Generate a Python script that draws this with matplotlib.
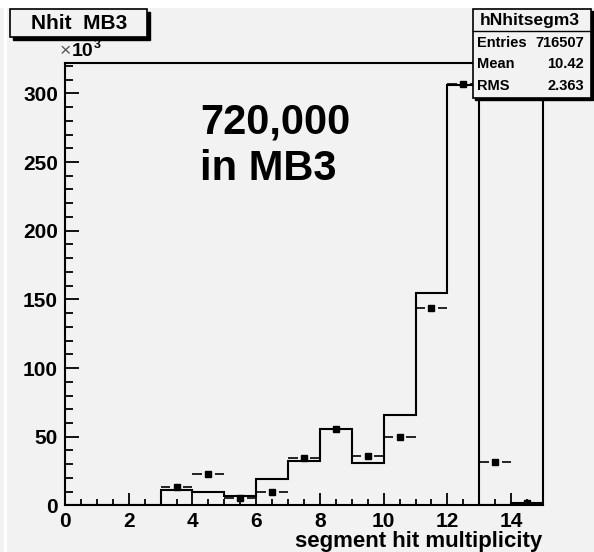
import matplotlib
matplotlib.use("Agg")
import matplotlib.pyplot as plt
from matplotlib.patches import Rectangle
from matplotlib.lines import Line2D
import numpy as np

plt.rcParams['font.family'] = ['Liberation Sans', 'DejaVu Sans']

# ---- data (thousands of entries) ----
bin_edges = list(range(0, 16))
hist_values = [0, 0, 0, 11.2, 10.0, 7.1, 19.2, 32.3, 55.6, 30.9, 65.8, 154.4, 306.0, 0.5, 1.7]
point_centers = [3.5, 4.5, 5.5, 6.5, 7.5, 8.5, 9.5, 10.5, 11.5, 12.5, 13.5, 14.5]
point_values = [13.6, 22.9, 5.4, 10.0, 34.5, 55.6, 36.0, 50.0, 144.0, 307.0, 31.8, 1.8]
x_ticks = [0, 2, 4, 6, 8, 10, 12, 14]
y_ticks = [0, 50, 100, 150, 200, 250, 300]
title_text = "Nhit  MB3"
stats_name = "hNhitsegm3"
stats_rows = [("Entries", "716507"), ("Mean", "10.42"), ("RMS", "2.363")]
note_text = "720,000\nin MB3"
xlabel_text = "segment hit multiplicity"

W, H = 594, 552
BG = '#f2f2f2'

def fx(px):
    return px / W

def fy(py):
    return 1 - py / H

fig = plt.figure(figsize=(W / 100, H / 100), dpi=100, facecolor=BG)

# white border strips
fig.patches.append(Rectangle((0, fy(8)), 1, 1 - fy(8), transform=fig.transFigure,
                             facecolor='white', edgecolor='none', zorder=0))
fig.patches.append(Rectangle((fx(4), 0), fx(2.5), 1, transform=fig.transFigure,
                             facecolor='white', edgecolor='none', zorder=0))

ax_l, ax_r, ax_t, ax_b = 65, 543, 62.7, 505.4
ax = fig.add_axes([fx(ax_l), fy(ax_b), fx(ax_r) - fx(ax_l), fy(ax_t) - fy(ax_b)])
ax.set_facecolor(BG)
ax.set_xlim(0, 15)
ax.set_ylim(0, 322.3)

# histogram step
ax.stairs(hist_values, bin_edges, color='black', linewidth=1.5, zorder=3)

# data points with horizontal bin-width bars (gap around marker)
gap = 0.2
pc = np.array(point_centers)
pv = np.array(point_values)
ax.hlines(pv, pc - 0.5, pc - gap, color='black', linewidth=1.2, zorder=4)
ax.hlines(pv, pc + gap, pc + 0.5, color='black', linewidth=1.2, zorder=4)
ax.plot(pc, pv, linestyle='none', marker='s', markersize=3.8, color='black', zorder=5)

# axes styling
for s in ax.spines.values():
    s.set_linewidth(1.5)
    s.set_color('black')
ax.set_xticks(x_ticks)
ax.set_xticks(np.arange(0, 15.01, 0.5), minor=True)
ax.set_yticks(y_ticks)
ax.set_yticks(np.arange(0, 322, 10), minor=True)
ax.set_xticklabels([str(v) for v in x_ticks], fontsize=15, fontweight='bold')
ax.set_yticklabels([str(v) for v in y_ticks], fontsize=15, fontweight='bold')
ax.tick_params(axis='x', which='major', direction='in', length=8.6, width=1.3, pad=5)
ax.tick_params(axis='x', which='minor', direction='in', length=4.5, width=1.3)
ax.tick_params(axis='y', which='major', direction='in', length=10, width=1.3, pad=5)
ax.tick_params(axis='y', which='minor', direction='in', length=6, width=1.3)

# x label, right aligned at axis end
fig.text(fx(542), fy(541.5), xlabel_text, ha='right', va='center', fontsize=16,
         fontweight='bold')

# x10^3 multiplier
fig.text(fx(60), fy(52), "\u00d7", ha='left', va='center', fontsize=14, color='#555555')
fig.text(fx(72), fy(52), "10", ha='left', va='center', fontsize=14, fontweight='bold')
fig.text(fx(94), fy(45), "3", ha='left', va='center', fontsize=9, fontweight='bold')

# big annotation (baseline of last line)
fig.text(fx(200), fy(180), note_text, ha='left', va='baseline', fontsize=30,
         fontweight='bold', linespacing=1.22)

# title box with shadow
tb_l, tb_t, tb_r, tb_b = 10, 9.3, 146.7, 36.7
sh = 3
fig.patches.append(Rectangle((fx(tb_l + sh), fy(tb_b + sh)), fx(tb_r) - fx(tb_l), fy(tb_t) - fy(tb_b),
                             transform=fig.transFigure, facecolor='black', edgecolor='black', zorder=5))
fig.patches.append(Rectangle((fx(tb_l), fy(tb_b)), fx(tb_r) - fx(tb_l), fy(tb_t) - fy(tb_b),
                             transform=fig.transFigure, facecolor=BG, edgecolor='black',
                             linewidth=1.2, zorder=6))
fig.text(fx((tb_l + tb_r) / 2 + 1), fy(23.5), title_text, ha='center', va='center', fontsize=15,
         fontweight='bold', zorder=7)

# stats box with shadow
sb_l, sb_t, sb_r, sb_b = 472.5, 9.3, 590.5, 97.5
sh2 = 2
fig.patches.append(Rectangle((fx(sb_l + sh2), fy(sb_b + sh2)), fx(sb_r) - fx(sb_l), fy(sb_t) - fy(sb_b),
                             transform=fig.transFigure, facecolor='black', edgecolor='black', zorder=5))
fig.patches.append(Rectangle((fx(sb_l), fy(sb_b)), fx(sb_r) - fx(sb_l), fy(sb_t) - fy(sb_b),
                             transform=fig.transFigure, facecolor=BG, edgecolor='black',
                             linewidth=1.2, zorder=6))
fig.lines.append(Line2D([fx(sb_l), fx(sb_r)], [fy(30.7), fy(30.7)], transform=fig.transFigure,
                        color='black', linewidth=1.0, zorder=7))
fig.text(fx(530), fy(20), stats_name, ha='center', va='center', fontsize=12.5,
         fontweight='bold', zorder=7)
row_y = [42.7, 64.3, 86.5]
for (k, v), yy in zip(stats_rows, row_y):
    fig.text(fx(477), fy(yy), k, ha='left', va='center', fontsize=10.5, fontweight='bold', zorder=7)
    fig.text(fx(584), fy(yy), v, ha='right', va='center', fontsize=10.5, fontweight='bold', zorder=7)

fig.savefig("out.png", dpi=100, facecolor=BG)
